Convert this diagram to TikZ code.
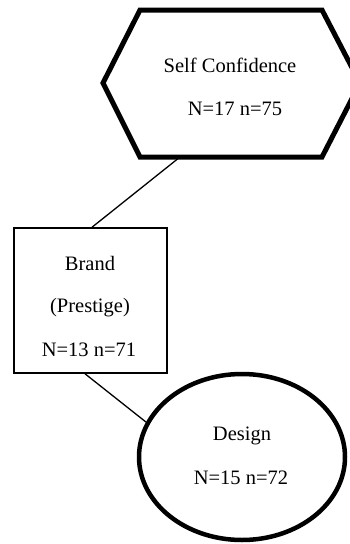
\documentclass[tikz,border=0pt]{standalone}
\usepackage{fontspec}
\setmainfont{Liberation Serif}
\usetikzlibrary{shapes.geometric}
\begin{document}
\begin{tikzpicture}[x=1pt,y=-1pt,
  lbl/.style={anchor=base,inner sep=0pt,font=\fontsize{20.5}{24}\selectfont},
  link/.style={line width=1.3pt},
  boxnode/.style={draw,line width=1.5pt,minimum width=153pt,minimum height=145pt,inner sep=0pt},
  ovalnode/.style={draw,ellipse,line width=4.5pt,minimum width=206pt,minimum height=166pt,inner sep=0pt}]
\useasboundingbox (0,0) rectangle (350,544);

% hexagon
\draw[line width=5pt,line join=miter]
  (140,10) -- (322,10) -- (360,83) -- (322,157) -- (140,157) -- (103,83) -- cycle;
\coordinate (hexbot) at (180,157);
\node[lbl] (sc1) at (230,72) {Self Confidence};
\node[lbl] (sc2) at (235,115) {N=17 n=75};

% rectangle
\node[boxnode] (brand) at (90.5,300.5) {};
\node[lbl] (br1) at (90,270) {Brand};
\node[lbl] (br2) at (90,312) {(Prestige)};
\node[lbl] (br3) at (89,356) {N=13 n=71};

% ellipse
\node[ovalnode] (design) at (242,457) {};
\node[lbl] (de1) at (242,440) {Design};
\node[lbl] (de2) at (241,484) {N=15 n=72};

% connectors
\draw[link] (hexbot) -- ([xshift=1.5pt]brand.north);
\draw[link] ([xshift=-5.5pt]brand.south) -- (design.160);
\end{tikzpicture}
\end{document}
